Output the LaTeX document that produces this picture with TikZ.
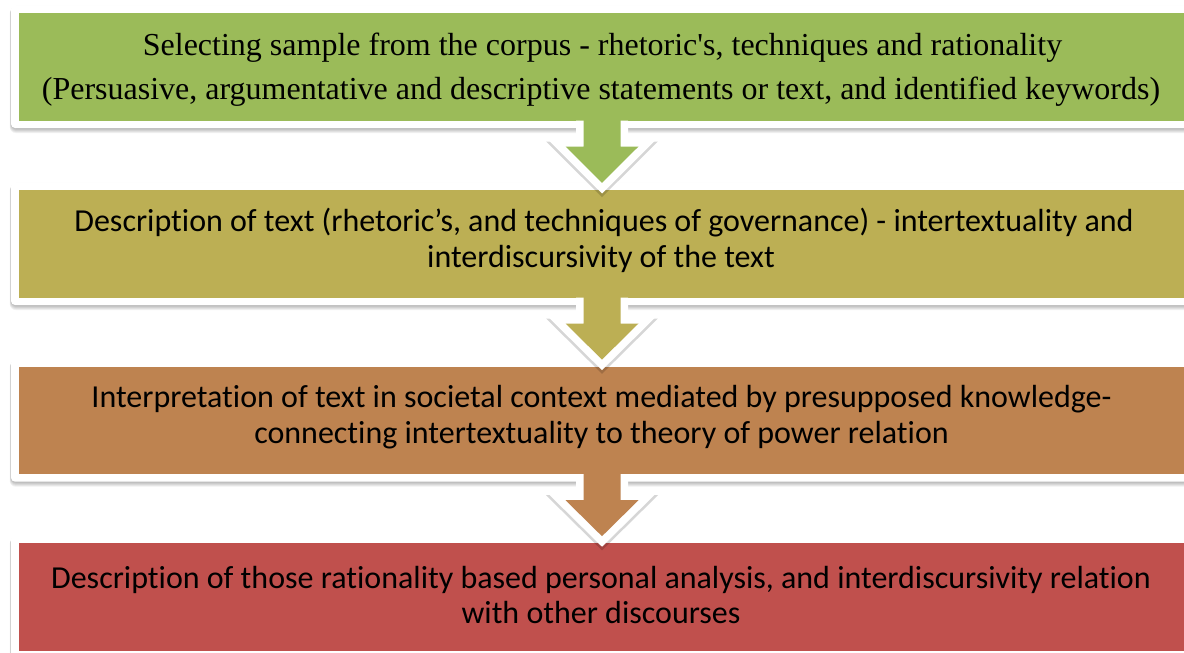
\documentclass[tikz,border=0pt]{standalone}
\usepackage{fontspec}
\newfontfamily\serifface[Ligatures={ResetAll,NoCommon}]{Liberation Serif}
\newfontfamily\sansface[Ligatures={NoCommon,NoRequired,NoContextual,NoRare},Contextuals=NoAlternate]{Carlito}
\usetikzlibrary{calc,backgrounds}

% keep "t" and "i" as separate glyphs (no ti ligature)
\newXeTeXintercharclass\tletterclass
\newXeTeXintercharclass\iletterclass
\XeTeXcharclass`t=\tletterclass
\XeTeXcharclass`i=\iletterclass
\XeTeXinterchartoks\tletterclass\iletterclass={\kern0pt }
\XeTeXinterchartokenstate=1

\definecolor{stageA}{RGB}{155,187,89}
\definecolor{stageB}{RGB}{188,175,84}
\definecolor{stageC}{RGB}{190,131,80}
\definecolor{stageD}{RGB}{192,80,77}

\tikzset{
  stagebox/.style={fill=#1, draw=none, minimum width=1167pt, minimum height=107.6pt,
                   inner sep=0pt, outer sep=0pt},
  serifline/.style={anchor=base, inner sep=0pt, font=\serifface\fontsize{32pt}{40pt}\selectfont},
  sansline/.style={anchor=base, inner sep=0pt, font=\sansface\fontsize{32pt}{40pt}\selectfont},
  arrowedge/.style={draw=white, line width=15pt, line join=miter},
  arrowshade/.style={draw=black, opacity=0.16, line width=16pt, line join=miter},
}

% block arrow from the bottom of box #1 to the top of box #2, filled with #3
\newcommand\stagearrow[3]{%
  \coordinate (#1-p1) at ($(#1.south)+(-18.5,-1)$);
  \coordinate (#1-p2) at ($(#1.south)+(-18.5,26)$);
  \coordinate (#1-p3) at ($(#1.south)+(-36.5,26)$);
  \coordinate (#1-p4) at ($(#2.north)+(0,-7)$);
  \coordinate (#1-p5) at ($(#1.south)+(36.5,26)$);
  \coordinate (#1-p6) at ($(#1.south)+(18.5,26)$);
  \coordinate (#1-p7) at ($(#1.south)+(18.5,-1)$);
  \draw[arrowshade, transform canvas={yshift=-3pt}]
    (#1-p2) -- (#1-p3) -- (#1-p4) -- (#1-p5) -- (#1-p6);
  \draw[arrowedge] ($(#1.south)+(-18.5,0)$) -- (#1-p2) -- (#1-p3) -- (#1-p4)
    -- (#1-p5) -- (#1-p6) -- ($(#1.south)+(18.5,0)$);
  \fill[#3] (#1-p1) -- (#1-p2) -- (#1-p3) -- (#1-p4) -- (#1-p5) -- (#1-p6) -- (#1-p7) -- cycle;
}

\begin{document}
\begin{tikzpicture}[x=1pt,y=-1pt]
\useasboundingbox (0,0) rectangle (1184,653);

% coloured stage boxes
\node[stagebox=stageA] (b1) at (602,66.7) {};
\node[stagebox=stageB] (b2) at (602,243.7) {};
\node[stagebox=stageC] (b3) at (602,420.4) {};
\node[stagebox=stageD] (b4) at (602,597) {};

% white frames with soft shadows behind the boxes
\begin{scope}[on background layer]
  \fill[white] (0,0) rectangle (1184,653);
  \foreach \b in {b1,b2,b3,b4} {
    \foreach \k in {1,...,5}
      \fill[black, opacity=0.06, rounded corners=6pt]
        ($(\b.south west)+(-7.5-0.25*\k,7.5+\k)$) rectangle ($(\b.north east)+(7.5+0.25*\k,-7.5+0.5*\k)$);
    \fill[white, rounded corners=4pt]
      ($(\b.south west)+(-7.5,7.5)$) rectangle ($(\b.north east)+(7.5,-7.5)$);
  }
\end{scope}

% texts
\node[serifline] (t1a) at (602.5,55) {Selecting sample from the corpus - rhetoric's, techniques and rationality};
\node[serifline] (t1b) at (601,99) {(Persuasive, argumentative and descriptive statements or text, and identified keywords)};

\node[sansline] (t2a) at (604,231) {Description of text (rhetoric’s, and techniques of governance) - intertextuality and};
\node[sansline] (t2b) at (601,267) {interdiscursivity of the text};

\node[sansline] (t3a) at (601.5,407) {Interpretation of text in societal context mediated by presupposed knowledge-};
\node[sansline] (t3b) at (601.5,443) {connecting intertextuality to theory of power relation};

\node[sansline] (t4a) at (601,588.3) {Description of those rationality based personal analysis, and interdiscursivity relation};
\node[sansline] (t4b) at (601,623.3) {with other discourses};

% block arrows between the stages
\stagearrow{b1}{b2}{stageA}
\stagearrow{b2}{b3}{stageB}
\stagearrow{b3}{b4}{stageC}
\end{tikzpicture}
\end{document}
